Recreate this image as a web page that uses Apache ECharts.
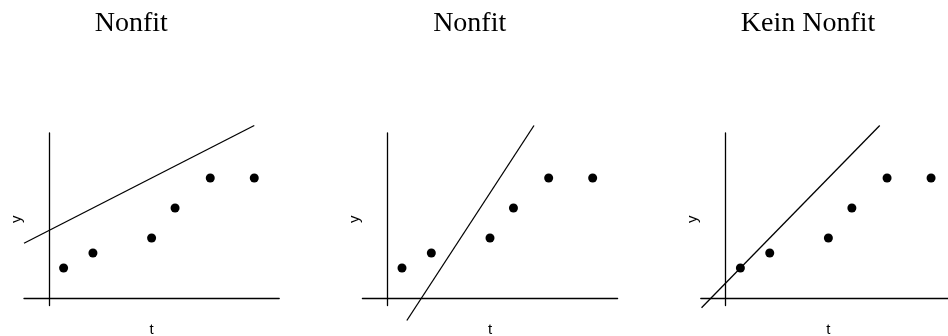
<!DOCTYPE html>
<html>
<head>
<meta charset="utf-8">
<script src="https://cdn.jsdelivr.net/npm/echarts@6/dist/echarts.min.js"></script>
<style>
  html, body { margin: 0; padding: 0; background: #fff; }
  #chart { width: 948px; height: 336px; }
</style>
</head>
<body>
<div id="chart"></div>
<script>
// same measurements in every panel
const tValues = [1, 3, 7, 8.6, 11, 14];
const yValues = [2, 3, 4, 6, 8, 8];

const panelTitles = ['Nonfit', 'Nonfit', 'Kein Nonfit'];

// straight line drawn in each panel, two end points (t, y)
const fitLineT = [[-1.7, 14], [1.33, 10], [-1.65, 10.5]];
const fitLineY = [[3.65, 11.5], [-1.5, 11.5], [-0.65, 11.5]];

const chart = echarts.init(document.getElementById('chart'));

const panelStep = 338.4;
const axisLine = { onZero: true, lineStyle: { color: '#000', width: 1.3 } };
const nameFont = { fontFamily: 'Liberation Sans', fontSize: 15, color: '#000' };

const grids = [], xAxes = [], yAxes = [], titles = [], series = [];

panelTitles.forEach((name, i) => {
  const left = 24 + i * panelStep;
  // keep the grid exactly where it is put (no auto fitting of axis names)
  grids.push({ left: left, top: 133, width: 255.2, height: 172.5, outerBoundsMode: 'none' });

  titles.push({
    text: name,
    left: left + 102.3,
    top: 5,
    textAlign: 'center',
    textStyle: { fontFamily: 'Liberation Serif', fontSize: 28, fontWeight: 'normal', color: '#000' }
  });

  // axis names are placed from the grid edge, not from the zero line
  xAxes.push({
    type: 'value', gridIndex: i, min: -1.7, max: 15.7,
    name: 't', nameLocation: 'middle', nameGap: 17,
    nameTextStyle: nameFont,
    axisLine: axisLine, axisTick: { show: false }, axisLabel: { show: false }, splitLine: { show: false }
  });
  yAxes.push({
    type: 'value', gridIndex: i, min: -0.5, max: 11,
    name: 'y', nameLocation: 'middle', nameGap: 0,
    nameTextStyle: nameFont,
    axisLine: axisLine, axisTick: { show: false }, axisLabel: { show: false }, splitLine: { show: false }
  });

  series.push({
    type: 'scatter', xAxisIndex: i, yAxisIndex: i,
    symbolSize: 9, itemStyle: { color: '#000', opacity: 1 },
    data: tValues.map((t, k) => [t, yValues[k]])
  });
  series.push({
    type: 'line', xAxisIndex: i, yAxisIndex: i,
    clip: false, showSymbol: false, symbol: 'none',
    lineStyle: { color: '#000', width: 1.3 },
    data: fitLineT[i].map((t, k) => [t, fitLineY[i][k]])
  });
});

chart.setOption({
  animation: false,
  title: titles,
  grid: grids,
  xAxis: xAxes,
  yAxis: yAxes,
  series: series
});
</script>
</body>
</html>
